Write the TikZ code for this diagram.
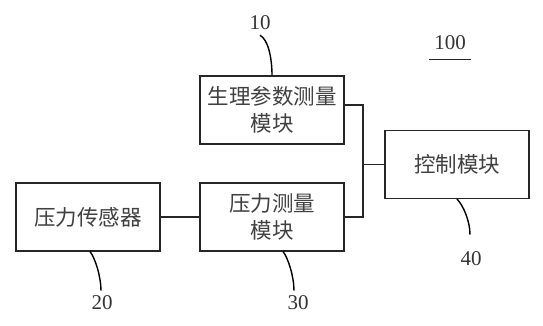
\documentclass[tikz,border=0pt]{standalone}
\usepackage{fontspec}
\setmainfont{Liberation Serif}
\newfontfamily\cjk{Noto Sans CJK SC}

\begin{document}
\begin{tikzpicture}[
  x=1pt, y=1pt,
  box/.style={draw=black!85, fill=white, rectangle, minimum width=144pt,
              minimum height=68pt, align=center, inner sep=2pt, line width=1.1pt,
              font=\cjk\fontsize{21.5}{27}\selectfont, text=black!75},
  num/.style={font=\fontsize{21}{24}\selectfont, text=black!80, inner sep=5pt},
  wire/.style={draw=black!85, line width=1.1pt},
  lead/.style={draw=black, line width=1.4pt},
]
  \def\xA{88}   % pressure sensor
  \def\xB{272}  % measuring modules
  \def\xC{457}  % control module
  \def\xJ{363}  % junction

  \useasboundingbox (0,0) rectangle (543,326);

  % --- Blocks ---
  \node[box] at (\xB,216) (m10) {生理参数测量\\模块};
  \node[box] at (\xA,109) (m20) {压力传感器};
  \node[box] at (\xB,109) (m30) {压力测量\\模块};
  \node[box] at (\xC,161.5) (m40) {控制模块};

  % --- Reference numbers ---
  \node[num] at (260,303) (l10) {10};
  \node[num] at (102,23) (l20) {20};
  \node[num] at (298,23) (l30) {30};
  \node[num] at (471,67) (l40) {40};
  \node[num] at (450,283) (l100) {100};
  \draw[wire] ([yshift=-4pt]l100.south west) -- ([yshift=-4pt]l100.south east);

  % --- Connections ---
  \coordinate (jn) at (\xJ,161.5);
  \draw[wire] (m20) -- (m30);
  \draw[wire] ([yshift=5pt]m10.east) -| (jn) |- (m30.east);
  \draw[wire] (jn) -- (m40);

  % --- Leaders ---
  \draw[lead] (l10.south) .. controls +(8,-4) and +(0,18) .. (m10.north);
  \draw[lead] ([xshift=2pt]m20.south) .. controls +(5,-6) and +(0,14) .. ([xshift=-1pt]l20.north);
  \draw[lead] ([xshift=11pt]m30.south) .. controls +(5,-6) and +(0,14) .. ([xshift=-4pt]l30.north);
  \draw[lead] (m40.south) .. controls +(6,-6) and +(0,14) .. ([xshift=-1pt,yshift=12pt]l40.north);

\end{tikzpicture}
\end{document}
